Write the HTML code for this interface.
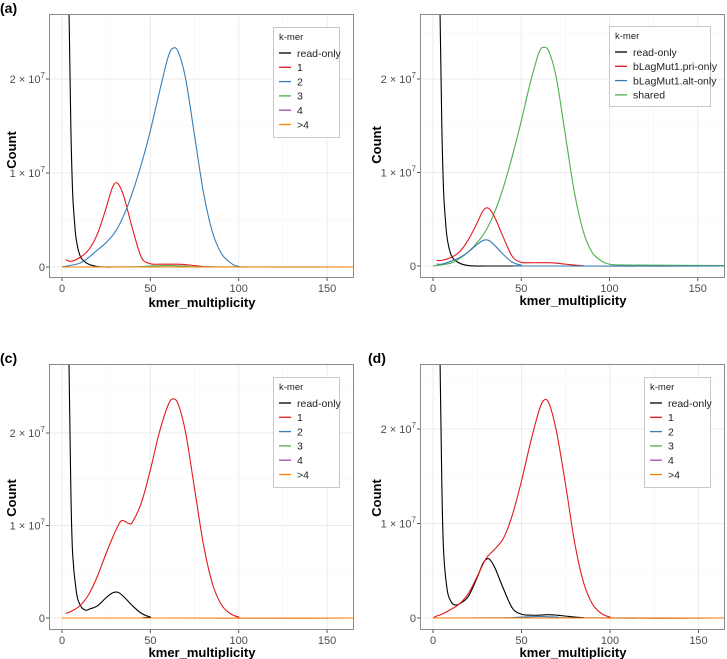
<!DOCTYPE html>
<html><head><meta charset="utf-8"><style>
html,body{margin:0;padding:0;background:#fff}
svg{display:block;font-family:"Liberation Sans",Arial,sans-serif}
</style></head><body>
<svg id="chart" width="727" height="659" viewBox="0 0 727 659" xmlns="http://www.w3.org/2000/svg"></svg>
<script>
// ---- data (counts in millions) ----
const xTicks = [0, 50, 100, 150];
const xTickLabels = ["0", "50", "100", "150"];
const yTicks = [0, 10, 20];
const yTickBase = ["0", "1", "2"];

const roX = [3, 4, 5, 6, 7, 8, 10, 12, 15, 20, 25, 30, 60, 165];
const roA = [40, 27, 15, 8, 5, 3, 1.3, 0.7, 0.3, 0.05, 0, 0, 0, 0];

const a1X = [2, 5, 10, 15, 20, 25, 28, 30, 32, 35, 40, 45, 50, 55, 60, 65, 70, 75, 80, 85, 90, 165];
const a1Y = [0.8, 0.6, 1.0, 1.8, 3.5, 6.3, 8.2, 8.9, 8.8, 7.5, 4.0, 1.0, 0.35, 0.3, 0.3, 0.3, 0.25, 0.15, 0.05, 0.02, 0, 0];
const bigX = [0, 10, 15, 20, 25, 30, 35, 40, 45, 50, 55, 60, 63, 66, 70, 75, 80, 85, 90, 95, 100, 110, 165];
const a2Y = [0, 0.4, 1.0, 1.8, 2.6, 3.7, 5.5, 8.0, 11, 14.5, 18.5, 22.3, 23.3, 22.8, 20, 14, 8, 3.8, 1.5, 0.5, 0.05, 0, 0];
const flatX = [0, 40, 50, 60, 70, 80, 165];
const smallY = [0, 0.02, 0.1, 0.15, 0.1, 0.02, 0];
const zeroY = [0, 0, 0, 0, 0, 0, 0];

const bPriY = [0.6, 0.6, 0.9, 1.5, 2.8, 4.6, 5.8, 6.2, 6.1, 5.2, 3.0, 1.0, 0.4, 0.35, 0.35, 0.35, 0.3, 0.2, 0.1, 0.03, 0, 0];
const bAltX = [2, 5, 10, 15, 20, 25, 28, 30, 32, 35, 40, 45, 50, 55, 165];
const bAltY = [0.2, 0.2, 0.5, 0.9, 1.5, 2.3, 2.7, 2.8, 2.7, 2.2, 1.2, 0.4, 0.1, 0, 0];
const bSharedY = [0, 0.3, 0.8, 1.5, 2.5, 3.8, 5.8, 8.5, 11.8, 15.5, 19.5, 22.8, 23.4, 22.8, 20, 14, 8, 3.8, 1.5, 0.6, 0.2, 0.1, 0.05];

const cRoX = [3, 4, 5, 6, 8, 10, 13, 16, 20, 25, 28, 30, 32, 35, 40, 45, 50, 55, 165];
const cRoY = [40, 27, 14, 7, 3, 1.5, 0.86, 1.0, 1.3, 2.2, 2.65, 2.8, 2.75, 2.3, 1.3, 0.5, 0.1, 0, 0];
const cRedX = [2, 5, 10, 15, 20, 25, 30, 33, 35, 38, 40, 45, 50, 55, 60, 63, 66, 70, 75, 80, 85, 90, 95, 100, 105, 165];
const cRedY = [0.5, 0.7, 1.3, 2.5, 4.5, 7.0, 9.3, 10.4, 10.5, 10.2, 10.4, 12.5, 16, 20, 23, 23.7, 23, 20, 14, 8, 3.8, 1.5, 0.5, 0.1, 0, 0];

const dRoX = [3, 4, 5, 6, 8, 10, 12, 15, 20, 25, 28, 30, 32, 35, 40, 45, 50, 55, 60, 65, 70, 75, 80, 85, 90, 165];
const dRoY = [40, 27, 14, 7, 3, 1.8, 1.4, 1.5, 2.3, 4.3, 5.7, 6.2, 6.2, 5.3, 3.0, 1.0, 0.4, 0.3, 0.3, 0.35, 0.3, 0.2, 0.1, 0.03, 0, 0];
const dRedX = [0, 2, 5, 10, 15, 20, 25, 30, 35, 40, 45, 50, 55, 60, 63, 66, 70, 75, 80, 85, 90, 95, 100, 105, 165];
const dRedY = [0, 0.2, 0.4, 0.9, 1.5, 2.6, 4.4, 6.3, 7.3, 8.5, 11, 14.5, 18.5, 22, 23.1, 22.5, 19.5, 14, 8, 3.8, 1.5, 0.5, 0.1, 0, 0];

const C = {black:"#000000", red:"#E41A1C", blue:"#377EB8", green:"#4DAF4A", purple:"#984EA3", orange:"#FF7F00"};
const legendNum = ["read-only", "1", "2", "3", "4", ">4"];
const legendNumCol = [C.black, C.red, C.blue, C.green, C.purple, C.orange];
const legendB = ["read-only", "bLagMut1.pri-only", "bLagMut1.alt-only", "shared"];
const legendBCol = [C.black, C.red, C.blue, C.green];

const NS = "http://www.w3.org/2000/svg";
const svg = document.getElementById("chart");
function mk(tag, attrs, parent) {
  const e = document.createElementNS(NS, tag);
  for (const k in attrs) e.setAttribute(k, attrs[k]);
  (parent || svg).appendChild(e);
  return e;
}
function smoothPath(pts) {
  let d = "M" + pts[0][0].toFixed(2) + "," + pts[0][1].toFixed(2);
  for (let i = 0; i < pts.length - 1; i++) {
    const p0 = pts[i - 1] || pts[i], p1 = pts[i], p2 = pts[i + 1], p3 = pts[i + 2] || p2;
    const c1x = p1[0] + (p2[0] - p0[0]) / 6, c1y = p1[1] + (p2[1] - p0[1]) / 6;
    const c2x = p2[0] - (p3[0] - p1[0]) / 6, c2y = p2[1] - (p3[1] - p1[1]) / 6;
    d += "C" + c1x.toFixed(2) + "," + c1y.toFixed(2) + " " + c2x.toFixed(2) + "," + c2y.toFixed(2) + " " + p2[0].toFixed(2) + "," + p2[1].toFixed(2);
  }
  return d;
}

function panel(cfg) {
  const g = mk("g", {});
  
  
  const R = cfg.rect;
  const sx = v => cfg.x0 + v * cfg.xs;
  const sy = v => cfg.y0 - v * cfg.ys;
  const clipId = "clip-" + cfg.id;
  const cp = mk("clipPath", {id: clipId}, g);
  mk("rect", {x: R[0], y: R[1], width: R[2], height: R[3]}, cp);
  [25, 75, 125].forEach(v => { const l = mk("line", {x1: sx(v), x2: sx(v), y1: R[1], y2: R[1] + R[3], stroke: "#f4f4f4", "stroke-width": 0.6}, g);   });
  [5, 15, 25].forEach(v => { const l = mk("line", {x1: R[0], x2: R[0] + R[2], y1: sy(v), y2: sy(v), stroke: "#f4f4f4", "stroke-width": 0.6}, g);   });
  xTicks.forEach(v => { const l = mk("line", {x1: sx(v), x2: sx(v), y1: R[1], y2: R[1] + R[3], stroke: "#ebebeb", "stroke-width": 1}, g);   });
  yTicks.forEach(v => { const l = mk("line", {x1: R[0], x2: R[0] + R[2], y1: sy(v), y2: sy(v), stroke: "#ebebeb", "stroke-width": 1}, g);   });
  const sg = mk("g", {"clip-path": "url(#" + clipId + ")"}, g);
  cfg.series.forEach(s => {
    const pts = s.x.map((xv, i) => [sx(xv), sy(s.y[i])]);
    const p = mk("path", {d: smoothPath(pts), fill: "none", stroke: s.color, "stroke-width": 1.1}, sg);
    
    
  });
  const b = mk("rect", {x: R[0] + 0.5, y: R[1] + 0.5, width: R[2] - 1, height: R[3] - 1, fill: "none", stroke: "#8a8a8a", "stroke-width": 1}, g);
  
  
  xTicks.forEach((v, i) => {
    mk("line", {x1: sx(v), x2: sx(v), y1: R[1] + R[3], y2: R[1] + R[3] + 3, stroke: "#555"}, g);
    const t = mk("text", {x: sx(v), y: R[1] + R[3] + 14, "text-anchor": "middle", "font-size": 11, fill: "#4d4d4d"}, g);
    t.textContent = xTickLabels[i];
    
    
  });
  yTicks.forEach((v, i) => {
    mk("line", {x1: R[0] - 3, x2: R[0], y1: sy(v), y2: sy(v), stroke: "#555"}, g);
    const t = mk("text", {x: R[0] - 4, y: sy(v) + 4, "text-anchor": "end", "font-size": 11, fill: "#4d4d4d"}, g);
    
    
    if (v === 0) { t.textContent = "0"; }
    else {
      t.textContent = yTickBase[i] + " \u00d7 10";
      const sup = mk("tspan", {dy: -5, "font-size": 8}, t);
      sup.textContent = "7";
    }
  });
  const xt = mk("text", {x: cfg.xTitle[0], y: cfg.xTitle[1], "text-anchor": "middle", "font-size": 13, "font-weight": "bold", fill: "#000"}, g);
  xt.textContent = "kmer_multiplicity";
  
  
  const yt = mk("text", {x: 0, y: 0, transform: "translate(" + cfg.yTitle[0] + "," + cfg.yTitle[1] + ") rotate(-90)", "text-anchor": "middle", "font-size": 13, "font-weight": "bold", fill: "#000"}, g);
  yt.textContent = "Count";
  
  
  const L = cfg.legend;
  const lg = mk("g", {}, g);
  
  
  mk("rect", {x: L.box[0] + 0.5, y: L.box[1] + 0.5, width: L.box[2], height: L.box[3], fill: "#fff", stroke: "#c8c8c8", "stroke-width": 1}, lg);
  const lt = mk("text", {x: L.box[0] + 6, y: L.box[1] + 13, "font-size": 9.5, fill: "#222"}, lg);
  lt.textContent = "k-mer";
  
  
  L.labels.forEach((lab, i) => {
    const cy = L.box[1] + 26 + i * 14.3;
    const e = mk("g", {}, lg);
    
    
    mk("line", {x1: L.box[0] + 6, x2: L.box[0] + 18, y1: cy, y2: cy, stroke: L.colors[i], "stroke-width": 1.3}, e);
    const t = mk("text", {x: L.box[0] + 24, y: cy + 3.8, "font-size": 10.5, fill: "#222"}, e);
    t.textContent = lab;
  });
  if (cfg.label) {
    const pl = mk("text", {x: cfg.label[0], y: cfg.label[1], "font-size": 14, "font-weight": "bold", fill: "#000"}, g);
    pl.textContent = cfg.label[2];
    
    
  }
}

panel({id: "a", rect: [49, 14, 305, 264], x0: 62, xs: 1.767, y0: 267, ys: 9.4,
  xTitle: [202, 307], yTitle: [16, 150], label: [0, 13, "(a)"],
  legend: {box: [273, 27, 66, 110], labels: legendNum, colors: legendNumCol},
  series: [
    {name: "read-only", x: roX, y: roA, color: C.black},
    {name: "k1", x: a1X, y: a1Y, color: C.red},
    {name: "k2", x: bigX, y: a2Y, color: C.blue},
    {name: "k3", x: flatX, y: smallY, color: C.green},
    {name: "k4", x: flatX, y: zeroY, color: C.purple},
    {name: "kgt4", x: flatX, y: zeroY, color: C.orange}
  ]});
panel({id: "b", rect: [420, 14, 305, 264], x0: 433, xs: 1.765, y0: 266, ys: 9.35,
  xTitle: [573, 305], yTitle: [381, 145], label: null,
  legend: {box: [609, 26, 101, 80], labels: legendB, colors: legendBCol},
  series: [
    {name: "read-only", x: roX, y: roA, color: C.black},
    {name: "shared", x: bigX, y: bSharedY, color: C.green},
    {name: "pri-only", x: a1X, y: bPriY, color: C.red},
    {name: "alt-only", x: bAltX, y: bAltY, color: C.blue}
  ]});
panel({id: "c", rect: [49, 364, 305, 266], x0: 62, xs: 1.767, y0: 618, ys: 9.25,
  xTitle: [202, 657], yTitle: [16, 498], label: [0, 363, "(c)"],
  legend: {box: [273, 377, 66, 110], labels: legendNum, colors: legendNumCol},
  series: [
    {name: "read-only", x: cRoX, y: cRoY, color: C.black},
    {name: "k1", x: cRedX, y: cRedY, color: C.red},
    {name: "k2", x: flatX, y: zeroY, color: C.blue},
    {name: "k3", x: flatX, y: zeroY, color: C.green},
    {name: "k4", x: flatX, y: zeroY, color: C.purple},
    {name: "kgt4", x: flatX, y: zeroY, color: C.orange}
  ]});
panel({id: "d", rect: [420, 364, 305, 266], x0: 433, xs: 1.77, y0: 618, ys: 9.45,
  xTitle: [573, 657], yTitle: [381, 498], label: [368, 363, "(d)"],
  legend: {box: [644, 377, 66, 110], labels: legendNum, colors: legendNumCol},
  series: [
    {name: "k2", x: flatX, y: smallY, color: C.blue},
    {name: "read-only", x: dRoX, y: dRoY, color: C.black},
    {name: "k1", x: dRedX, y: dRedY, color: C.red},
    {name: "k3", x: flatX, y: zeroY, color: C.green},
    {name: "k4", x: flatX, y: zeroY, color: C.purple},
    {name: "kgt4", x: flatX, y: zeroY, color: C.orange}
  ]});
</script>
</body></html>
